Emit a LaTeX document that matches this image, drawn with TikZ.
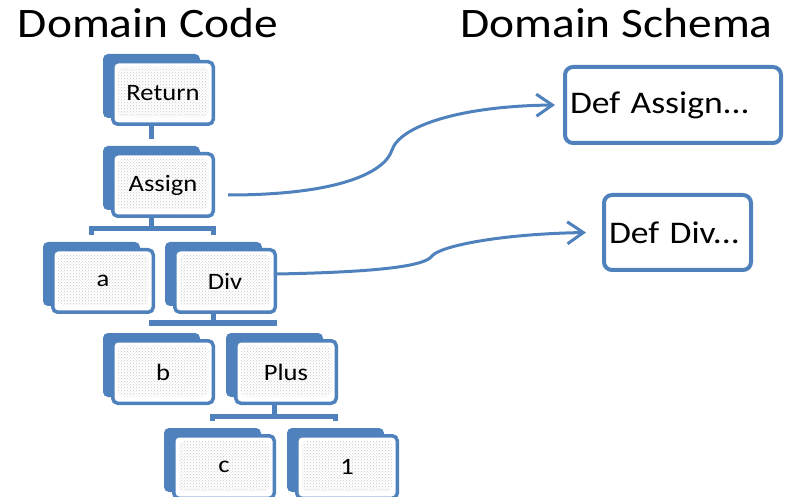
\documentclass[tikz,border=0pt]{standalone}
\usepackage{fontspec}
\setmainfont[FakeStretch=1.13]{Carlito}
\usetikzlibrary{arrows.meta,calc,patterns}
\definecolor{ofblue}{HTML}{4F81BD}
\begin{document}
\begin{tikzpicture}[x=1pt,y=-1pt,
  backbox/.style={fill=ofblue, draw=none, rounded corners=5pt,
    minimum width=97pt, minimum height=64pt, inner sep=0pt},
  frontbox/.style={draw=ofblue, line width=3.5pt, fill=white, rounded corners=5pt,
    minimum width=100.5pt, minimum height=62.5pt, inner sep=0pt,
    font=\fontsize{23.5}{27}\selectfont,
    path picture={\fill[pattern=crosshatch dots, pattern color=black!22]
      ([shift={(5pt,-5pt)}]path picture bounding box.north west) rectangle
      ([shift={(-5pt,7pt)}]path picture bounding box.south east);}},
  defbox/.style={draw=ofblue, line width=4pt, fill=white, rounded corners=8pt,
    inner xsep=5pt, align=left, font=\fontsize{31.5}{36}\selectfont},
  title/.style={font=\fontsize{42}{48}\selectfont, anchor=base},
  stem/.style={draw=ofblue, line width=5pt},
  link/.style={draw=ofblue, line width=3pt,
    -{Straight Barb[length=16pt,width=22pt]}},
]
\useasboundingbox (0,0) rectangle (785,497);

% headings
\node[title] (codeT) at (148,38) {Domain Code};
\node[title] (schemaT) at (616.5,38) {Domain Schema};

% tree of the domain code: back plate + front card per node
\node[backbox] (ret-b) at (151.5,86) {};
\node[frontbox] (ret) at (163,93) {Return};
\node[backbox] (asg-b) at (151.5,178) {};
\node[frontbox] (asg) at (163,185) {Assign};
\node[backbox] (a-b) at (91.5,274) {};
\node[frontbox] (a) at (103,281) {a};
\node[backbox] (div-b) at (213.5,274) {};
\node[frontbox] (div) at (225,281) {Div};
\node[backbox] (b-b) at (151.5,365) {};
\node[frontbox] (b) at (163,372) {b};
\node[backbox] (plus-b) at (274.5,365) {};
\node[frontbox] (plus) at (286,372) {Plus};
\node[backbox] (c-b) at (212.5,460) {};
\node[frontbox] (c) at (224,467) {c};
\node[backbox] (one-b) at (335.5,460) {};
\node[frontbox] (one) at (347,467) {1};

% schema definitions
\node[defbox, text width=206pt, minimum height=76pt] (defA) at (673,105) {Def Assign...};
\node[defbox, text width=137pt, minimum height=75pt] (defD) at (677.5,232.5) {Def Div...};

% tree connectors
\coordinate (asg-bar) at (151.5,229);
\coordinate (div-bar) at (213.5,323);
\coordinate (plus-bar) at (274.5,416);
\draw[stem] (ret.south -| ret-b.north) -- ([yshift=7pt]asg-b.north);
\draw[stem] (asg.south -| asg-b.north) -- (asg-bar);
\draw[stem] ([yshift=7pt]a-b.north) |- (asg-bar) -| ([yshift=7pt]div-b.north);
\draw[stem] (div.south -| div-b.north) -- (div-bar);
\draw[stem] ([yshift=7pt]b-b.north) |- (div-bar) -| ([yshift=7pt]plus-b.north);
\draw[stem] (plus.south -| plus-b.north) -- (plus-bar);
\draw[stem] ([yshift=7pt]c-b.north) |- (plus-bar) -| ([yshift=7pt]one-b.north);

% links from code to schema
\draw[link] ([xshift=13pt,yshift=-10pt]asg.east)
  .. controls (340,195) and (385,172) .. (392,150)
  .. controls (400,126) and (460,106) .. ([xshift=-8pt]defA.west);
\draw[link] ([yshift=7pt]div.east)
  .. controls (380,272) and (425,266) .. (432,256)
  .. controls (440,246) and (500,234) .. ([xshift=-16pt]defD.west);
\end{tikzpicture}
\end{document}
